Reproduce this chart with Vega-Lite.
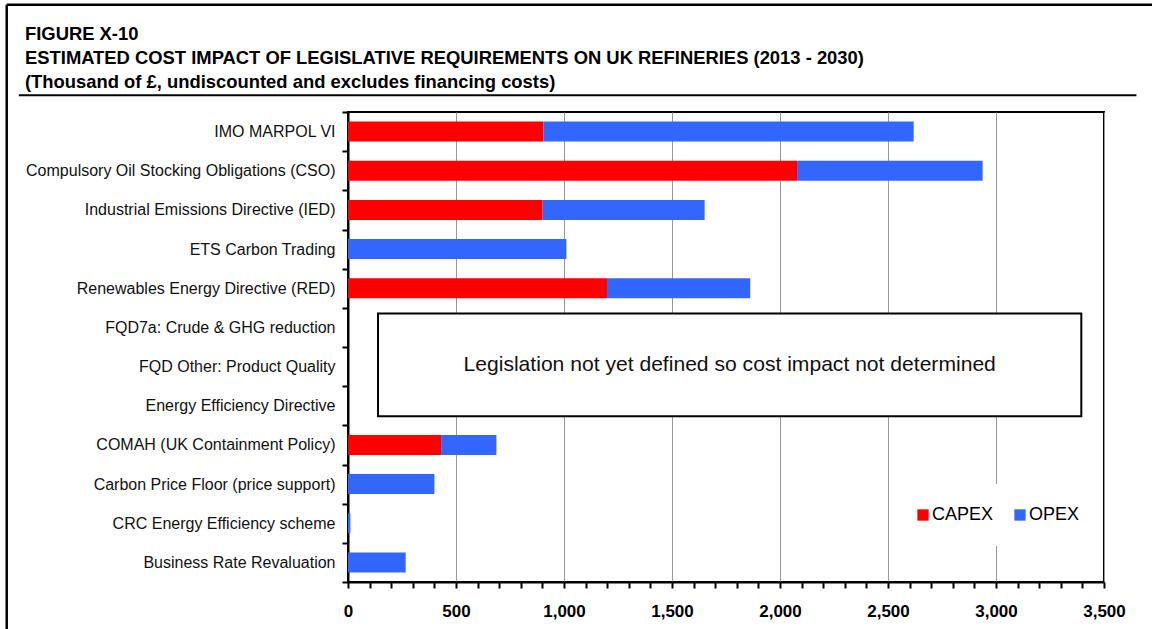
{
  "$schema": "https://vega.github.io/schema/vega-lite/v6.json",
  "autosize": {"type": "none"},
  "padding": {"left": 348, "top": 112, "right": 48, "bottom": 47},
  "width": 756,
  "height": 470,
  "background": "white",
  "title": {
    "text": [
      "FIGURE X-10",
      "ESTIMATED COST IMPACT OF LEGISLATIVE REQUIREMENTS ON UK REFINERIES (2013 - 2030)",
      "(Thousand of £, undiscounted and excludes financing costs)"
    ],
    "orient": "top",
    "anchor": "start",
    "frame": "group",
    "font": "Liberation Sans",
    "fontSize": 18.4,
    "fontWeight": "bold",
    "color": "black",
    "lineHeight": 24,
    "dx": -323,
    "offset": 0,
    "dy": 88
  },
  "config": {
    "font": "Liberation Sans",
    "view": {"stroke": "black", "strokeWidth": 2},
    "legend": {
      "orient": "none",
      "legendX": 544,
      "legendY": 372,
      "direction": "horizontal",
      "title": null,
      "symbolType": "square",
      "symbolSize": 128,
      "symbolStrokeWidth": 0,
      "labelFont": "Liberation Sans",
      "labelFontSize": 18,
      "labelColor": "black",
      "labelOffset": 0,
      "columnPadding": 17,
      "padding": 22,
      "fillColor": "white"
    }
  },
  "layer": [
    {
      "data": {
        "values": [
          {"legislation": "IMO MARPOL VI", "type": "CAPEX", "cost": 905},
          {"legislation": "IMO MARPOL VI", "type": "OPEX", "cost": 1714},
          {"legislation": "Compulsory Oil Stocking Obligations (CSO)", "type": "CAPEX", "cost": 2079},
          {"legislation": "Compulsory Oil Stocking Obligations (CSO)", "type": "OPEX", "cost": 859},
          {"legislation": "Industrial Emissions Directive (IED)", "type": "CAPEX", "cost": 901},
          {"legislation": "Industrial Emissions Directive (IED)", "type": "OPEX", "cost": 750},
          {"legislation": "ETS Carbon Trading", "type": "CAPEX", "cost": 0},
          {"legislation": "ETS Carbon Trading", "type": "OPEX", "cost": 1011},
          {"legislation": "Renewables Energy Directive (RED)", "type": "CAPEX", "cost": 1199},
          {"legislation": "Renewables Energy Directive (RED)", "type": "OPEX", "cost": 663},
          {"legislation": "FQD7a: Crude & GHG reduction", "type": "CAPEX", "cost": 0},
          {"legislation": "FQD7a: Crude & GHG reduction", "type": "OPEX", "cost": 0},
          {"legislation": "FQD Other: Product Quality", "type": "CAPEX", "cost": 0},
          {"legislation": "FQD Other: Product Quality", "type": "OPEX", "cost": 0},
          {"legislation": "Energy Efficiency Directive", "type": "CAPEX", "cost": 0},
          {"legislation": "Energy Efficiency Directive", "type": "OPEX", "cost": 0},
          {"legislation": "COMAH (UK Containment Policy)", "type": "CAPEX", "cost": 431},
          {"legislation": "COMAH (UK Containment Policy)", "type": "OPEX", "cost": 256},
          {"legislation": "Carbon Price Floor (price support)", "type": "CAPEX", "cost": 0},
          {"legislation": "Carbon Price Floor (price support)", "type": "OPEX", "cost": 400},
          {"legislation": "CRC Energy Efficiency scheme", "type": "CAPEX", "cost": 0},
          {"legislation": "CRC Energy Efficiency scheme", "type": "OPEX", "cost": 11},
          {"legislation": "Business Rate Revaluation", "type": "CAPEX", "cost": 0},
          {"legislation": "Business Rate Revaluation", "type": "OPEX", "cost": 267}
        ]
      },
      "mark": {"type": "bar", "height": {"band": 0.51}},
      "encoding": {
        "y": {
          "field": "legislation",
          "type": "nominal",
          "sort": null,
          "scale": {"paddingInner": 0, "paddingOuter": 0},
          "axis": {
            "title": null,
            "tickBand": "extent",
            "tickSize": 6,
            "tickWidth": 2,
            "tickColor": "black",
            "domainColor": "black",
            "domainWidth": 2,
            "labelFont": "Liberation Sans",
            "labelFontSize": 16,
            "labelColor": "#111111",
            "labelPadding": 7,
            "labelLimit": 400,
            "grid": false
          }
        },
        "x": {
          "field": "cost",
          "type": "quantitative",
          "aggregate": "sum",
          "stack": "zero",
          "scale": {"domain": [0, 3500], "nice": false},
          "axis": {
            "title": null,
            "values": [0, 100, 200, 300, 400, 500, 600, 700, 800, 900, 1000, 1100, 1200, 1300, 1400, 1500, 1600, 1700, 1800, 1900, 2000, 2100, 2200, 2300, 2400, 2500, 2600, 2700, 2800, 2900, 3000, 3100, 3200, 3300, 3400, 3500],
            "labelExpr": "datum.value % 500 === 0 ? format(datum.value, ',') : ''",
            "labelOverlap": false,
            "labelFlush": false,
            "labelFont": "Liberation Sans",
            "labelFontSize": 17,
            "labelFontWeight": "bold",
            "labelColor": "black",
            "labelPadding": 15,
            "tickSize": 6,
            "tickWidth": 2,
            "tickColor": "black",
            "domainColor": "black",
            "domainWidth": 2,
            "grid": true,
            "gridColor": "#999999",
            "gridWidth": 1,
            "gridOpacity": {"condition": {"test": "datum.value % 500 === 0", "value": 1}, "value": 0}
          }
        },
        "color": {
          "field": "type",
          "type": "nominal",
          "scale": {"domain": ["CAPEX", "OPEX"], "range": ["#FF0000", "#3366FF"]}
        },
        "order": {"field": "type"}
      }
    },
    {
      "data": {"values": [{}]},
      "layer": [
        {
          "mark": {"type": "rule", "color": "black", "strokeWidth": 2.5},
          "encoding": {
            "x": {"datum": -1580, "type": "quantitative", "scale": {"domain": [0, 3500], "nice": false}, "axis": null},
            "y": {"datum": -2.74, "type": "quantitative", "scale": {"domain": [0, 12], "reverse": true, "nice": false}, "axis": null},
            "y2": {"datum": 13.5}
          }
        },
        {
          "mark": {"type": "rule", "color": "black", "strokeWidth": 2.5},
          "encoding": {
            "x": {"datum": -1580, "type": "quantitative", "scale": {"domain": [0, 3500], "nice": false}, "axis": null},
            "x2": {"datum": 3730},
            "y": {"datum": -2.74, "type": "quantitative", "scale": {"domain": [0, 12], "reverse": true, "nice": false}, "axis": null}
          }
        },
        {
          "mark": {"type": "rule", "color": "black", "strokeWidth": 2},
          "encoding": {
            "x": {"datum": -1524, "type": "quantitative", "scale": {"domain": [0, 3500], "nice": false}, "axis": null},
            "x2": {"datum": 3650},
            "y": {"datum": -0.425, "type": "quantitative", "scale": {"domain": [0, 12], "reverse": true, "nice": false}, "axis": null}
          }
        },
        {
          "mark": {"type": "rect", "fill": "white", "stroke": "black", "strokeWidth": 2},
          "encoding": {
            "x": {"datum": 139, "type": "quantitative", "scale": {"domain": [0, 3500], "nice": false}, "axis": null},
            "x2": {"datum": 3395},
            "y": {"datum": 5.145, "type": "quantitative", "scale": {"domain": [0, 12], "reverse": true, "nice": false}, "axis": null},
            "y2": {"datum": 7.765}
          }
        },
        {
          "mark": {"type": "text", "font": "Liberation Sans", "fontSize": 21.1, "color": "#111111", "align": "center", "baseline": "middle"},
          "encoding": {
            "x": {"datum": 1767, "type": "quantitative", "scale": {"domain": [0, 3500], "nice": false}, "axis": null},
            "y": {"datum": 6.47, "type": "quantitative", "scale": {"domain": [0, 12], "reverse": true, "nice": false}, "axis": null},
            "text": {"value": "Legislation not yet defined so cost impact not determined"}
          }
        }
      ]
    }
  ],
  "resolve": {
    "scale": {"x": "independent", "y": "independent"},
    "axis": {"x": "independent", "y": "independent"}
  }
}
